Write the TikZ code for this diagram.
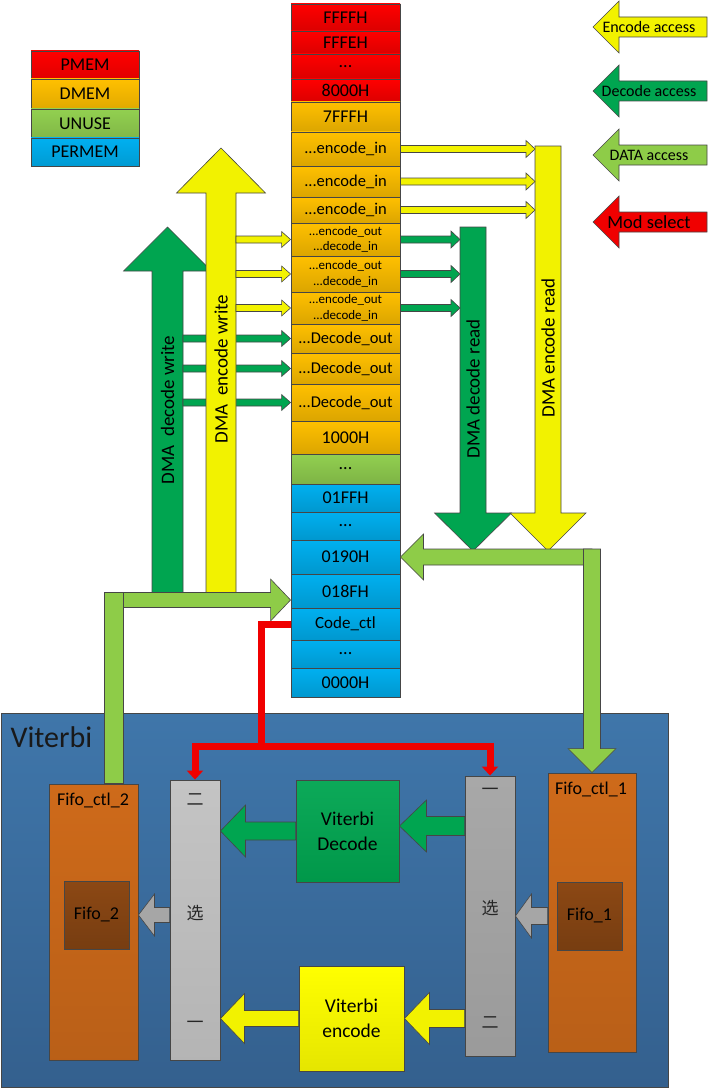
\documentclass[tikz,border=0pt]{standalone}
\usepackage{fontspec}
\setmainfont{Carlito}
\newfontfamily\cjk{Noto Sans CJK SC}
\usetikzlibrary{arrows.meta,calc}
\definecolor{pmem}{RGB}{255,0,0}
\definecolor{dmem}{RGB}{255,192,0}
\definecolor{unuse}{RGB}{146,208,80}
\definecolor{permem}{RGB}{0,176,240}
\definecolor{encyel}{RGB}{242,242,0}
\definecolor{decgrn}{RGB}{0,165,80}
\definecolor{datlime}{RGB}{142,204,72}
\definecolor{modred}{RGB}{240,0,0}
\definecolor{edgegray}{RGB}{70,70,70}
\definecolor{vittop}{RGB}{63,118,170}
\definecolor{vitbot}{RGB}{52,96,142}
\definecolor{fctl}{RGB}{206,106,26}
\definecolor{fifo}{RGB}{140,72,20}
\definecolor{muxlight}{RGB}{196,196,196}
\definecolor{muxdark}{RGB}{168,168,168}
\definecolor{arrgray}{RGB}{166,166,166}
\newcommand{\memdots}{...}
% horizontal block arrow: [style]{from}{to}{shaft half}{head half}{head length}
\newcommand{\harrow}[6][]{%
\filldraw[blockarrow,#1] let \p1=#2, \p2=#3, \n1={ifthenelse(\x2>\x1,1,-1)} in
 (\x1,{\y2+#4pt}) -- ({\x2-(\n1)*#6pt},{\y2+#4pt}) -- ({\x2-(\n1)*#6pt},{\y2+#5pt}) -- (\x2,\y2)
 -- ({\x2-(\n1)*#6pt},{\y2-#5pt}) -- ({\x2-(\n1)*#6pt},{\y2-#4pt}) -- (\x1,{\y2-#4pt}) -- cycle;}
% vertical block arrow
\newcommand{\varrow}[6][]{%
\filldraw[blockarrow,#1] let \p1=#2, \p2=#3, \n1={ifthenelse(\y2>\y1,1,-1)} in
 ({\x2-#4pt},\y1) -- ({\x2-#4pt},{\y2-(\n1)*#6pt}) -- ({\x2-#5pt},{\y2-(\n1)*#6pt}) -- (\x2,\y2)
 -- ({\x2+#5pt},{\y2-(\n1)*#6pt}) -- ({\x2+#4pt},{\y2-(\n1)*#6pt}) -- ({\x2+#4pt},\y1) -- cycle;}

\begin{document}
\begin{tikzpicture}[x=1pt,y=-1pt,
  memrow/.style={draw=edgegray, line width=0.9pt, minimum width=109pt, inner sep=0pt, align=center, text=black},
  legbox/.style={draw=edgegray, line width=0.9pt, minimum width=108pt, inner sep=0pt, font=\fontsize{18}{20}\selectfont},
  blockarrow/.style={draw=edgegray, line width=0.6pt, line join=miter},
  encfill/.style={fill=encyel},
  decfill/.style={fill=decgrn},
  datafill/.style={fill=datlime},
  grayfill/.style={fill=arrgray},
  boxnode/.style={draw=edgegray, line width=0.9pt, inner sep=0pt},
  lbl/.style={font=\fontsize{18}{22}\selectfont, text=black},
  dmalbl/.style={font=\fontsize{19}{22}\selectfont, rotate=90, text=black},
  cjkchar/.style={font=\cjk\fontsize{17}{20}\selectfont, text=black!85},
  modline/.style={draw=modred, line width=7pt, line join=miter, -{Triangle[length=9pt,width=16pt]}}]
\useasboundingbox (0,0) rectangle (709,1089);

% Viterbi block
\node[boxnode, top color=vittop, bottom color=vitbot, minimum width=667pt, minimum height=374pt] (vit) at (334.5,900) {};
\node[font=\fontsize{30}{36}\selectfont, anchor=base west, text=black!90] (vittitle) at (7,747) {Viterbi};

% memory map
\foreach \t/\b/\c/\fs/\txt [count=\i] in {
  4/31/pmem/18/FFFFH, 31/54/pmem/18/FFFEH, 54/79/pmem/18/\memdots, 79/102/pmem/18/8000H,
  102/132/dmem/18/7FFFH,
  132/166/dmem/16.5/\memdots encode\_in, 166/197/dmem/16.5/\memdots encode\_in, 197/223/dmem/16.5/\memdots encode\_in,
  223/256/dmem/13/{\memdots encode\_out\\\memdots decode\_in},
  256/292/dmem/13/{\memdots encode\_out\\\memdots decode\_in},
  292/324/dmem/13/{\memdots encode\_out\\\memdots decode\_in},
  324/353/dmem/16.5/\memdots Decode\_out, 353/384/dmem/16.5/\memdots Decode\_out, 384/421/dmem/16.5/\memdots Decode\_out,
  421/454/dmem/18/1000H,
  454/484/unuse/18/\memdots,
  484/512/permem/18/01FFH, 512/540/permem/18/\memdots, 540/574/permem/18/0190H, 574/608/permem/18/018FH,
  608/640/permem/17/Code\_ctl, 640/668/permem/18/\memdots, 668/697/permem/18/0000H}{
  \pgfmathsetmacro\h{\b-\t}
  \node[memrow, top color=\c, bottom color=\c!86!black, minimum height=\h pt, font=\fontsize{\fs}{15.5}\selectfont] (m\i) at (345.5,{(\t+\b)/2}) {\txt};
}

% legend
\node[legbox, top color=pmem, bottom color=pmem!88!black, minimum height=28pt] (lg1) at (85,65) {PMEM};
\node[legbox, top color=dmem, bottom color=dmem!88!black, minimum height=30pt] (lg2) at (85,94) {DMEM};
\node[legbox, top color=unuse, bottom color=unuse!88!black, minimum height=29pt] (lg3) at (85,123.5) {UNUSE};
\node[legbox, top color=permem, bottom color=permem!88!black, minimum height=28pt] (lg4) at (85,152) {PERMEM};

\harrow[encfill]{(707,27)}{(593,27)}{10}{26}{26}
\harrow[decfill]{(707,91)}{(593,91)}{10}{26}{26}
\harrow[datafill]{(707,155)}{(593,155)}{10}{26}{26}
\harrow[fill=modred]{(707,222)}{(593,222)}{10}{26}{26}
\node[font=\fontsize{16}{18}\selectfont] (keyenc) at (649,27) {Encode access};
\node[font=\fontsize{16}{18}\selectfont] (keydec) at (649,91) {Decode access};
\node[font=\fontsize{16}{18}\selectfont] (keydata) at (649,155) {DATA access};
\node[font=\fontsize{18.5}{22}\selectfont] (keymod) at (649,222) {Mod select};

% DMA write side
\coordinate (dwr) at (183,0);
\coordinate (ewr) at (236,0);
\varrow[decfill]{(167.5,594)}{(167.5,227)}{15.5}{44}{44}
\foreach \r in {12,13,14}
  \harrow[decfill]{(dwr |- m\r.west)}{(m\r.west)}{3.5}{8}{9};
\varrow[encfill]{(221,593)}{(221,148)}{15}{44.5}{45}
\foreach \r in {9,10,11}
  \harrow[encfill]{(ewr |- m\r.west)}{(m\r.west)}{3.5}{8}{9};
\node[dmalbl] (dwtxt) at (167.5,410) {DMA\ \ decode write};
\node[dmalbl] (ewtxt) at (221,369) {DMA\ \ encode write};

% DMA read side
\coordinate (drl) at (460,0);
\coordinate (erl) at (535,0);
\varrow[decfill]{(473,227)}{(473,551)}{13}{38.5}{38}
\foreach \r in {9,10,11}
  \harrow[decfill]{(m\r.east)}{(drl |- m\r.east)}{3.5}{8.5}{9};
\varrow[encfill]{(548,146)}{(548,551)}{13}{38}{38}
\foreach \r in {6,7,8}
  \harrow[encfill]{(m\r.east)}{(erl |- m\r.east)}{3.5}{8.5}{9};
\node[dmalbl] (drtxt) at (473,389) {DMA decode read};
\node[dmalbl] (ertxt) at (548,348) {DMA encode read};

% Viterbi inner blocks
\node[boxnode, top color=fctl, bottom color=fctl!90!black, minimum width=89pt, minimum height=276pt] (fc2) at (93.5,922) {};
\node[boxnode, top color=fifo, bottom color=fifo!85!black, minimum width=65pt, minimum height=68pt, lbl] (fifo2) at (96.5,915) {Fifo\_2};
\node[lbl] (fc2txt) at (93,800) {Fifo\_ctl\_2};
\node[boxnode, top color=muxlight, bottom color=muxlight!92!black, minimum width=50pt, minimum height=280pt] (mux2) at (195,920) {};
\node[cjkchar] (mux2a) at (195,800) {二};
\node[cjkchar] (mux2b) at (195,913) {选};
\node[cjkchar] (mux2c) at (195,1025) {一};
\node[boxnode, top color=decgrn!95!white, bottom color=decgrn!92!black, minimum width=103pt, minimum height=102pt, align=center, font=\fontsize{19.5}{25}\selectfont] (vdec) at (347.5,831) {Viterbi\\Decode};
\node[boxnode, top color=yellow, bottom color=yellow!90!black, minimum width=105pt, minimum height=105pt, align=center, font=\fontsize{19.5}{25}\selectfont] (venc) at (351.5,1018.5) {Viterbi\\encode};
\node[boxnode, top color=muxdark, bottom color=muxdark!92!black, minimum width=50pt, minimum height=280pt] (mux1) at (490,916) {};
\node[cjkchar] (mux1a) at (490,792) {一};
\node[cjkchar] (mux1b) at (490,908) {选};
\node[cjkchar] (mux1c) at (490,1023) {二};
\node[boxnode, top color=fctl, bottom color=fctl!90!black, minimum width=88pt, minimum height=279pt] (fc1) at (592,912.5) {};
\node[boxnode, top color=fifo, bottom color=fifo!85!black, minimum width=65pt, minimum height=68pt, lbl] (fifo1) at (589.5,916) {Fifo\_1};
\node[lbl] (fc1txt) at (591,789) {Fifo\_ctl\_1};

% data paths inside Viterbi
\harrow[decfill]{(mux1.west)}{([yshift=5pt]vdec.east)}{9.5}{26}{27}
\harrow[decfill]{(vdec.west)}{(mux2.east |- vdec.west)}{9}{26}{25}
\harrow[grayfill]{(fc1.west |- fifo1.west)}{(mux1.east |- fifo1.west)}{8.5}{22}{16}
\harrow[grayfill]{(mux2.west |- fifo2.east)}{(fc2.east |- fifo2.east)}{7.5}{21}{16}
\harrow[encfill]{(mux1.west |- venc.east)}{(venc.east)}{9}{26}{25}
\harrow[encfill]{(venc.west)}{(mux2.east |- venc.west)}{8}{25}{24}

% DATA access paths
\harrow[datafill]{(592,557)}{(m19.east)}{8}{23}{23}
\varrow[datafill]{(592,549)}{(fc1.north)}{8.5}{24}{24}
\harrow[datafill]{(113.5,600)}{([yshift=-9pt]m20.west)}{7.5}{21}{20}
\filldraw[blockarrow,datafill] (104,592) rectangle ([xshift=29.5pt]fc2.north);

% mode select
\draw[modline] (m21.west) -| (261,746) -| (mux2.north);
\draw[modline] (261,746) -| (mux1.north);
\end{tikzpicture}
\end{document}
